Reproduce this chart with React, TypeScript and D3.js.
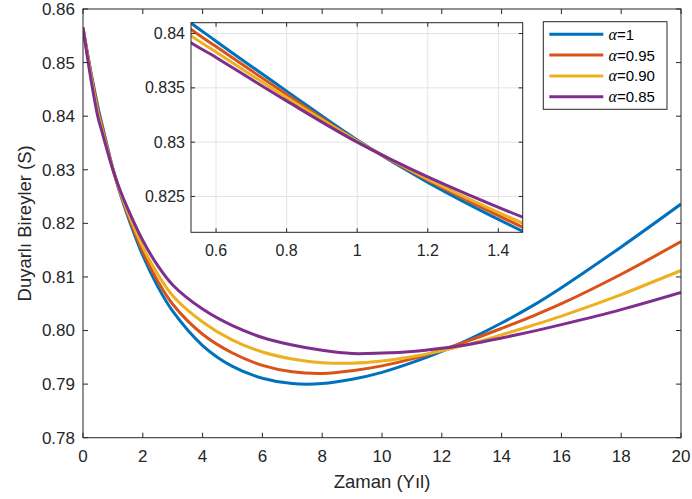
import React from "react";
import * as d3 from "d3";

const T = [0, 0.25, 0.5, 0.6, 0.8, 1, 1.2, 1.5, 2, 2.5, 3, 4, 5, 6, 7, 8, 9, 10, 11, 12, 13, 14, 15, 16, 18, 20];
const alpha1 = [0.8565, 0.8487, 0.8417, 0.8393, 0.8347, 0.8302, 0.8263, 0.8213, 0.814, 0.8082, 0.8036, 0.7972, 0.7933, 0.7911, 0.7901, 0.7901, 0.7909, 0.7922, 0.794, 0.7961, 0.7986, 0.8014, 0.8045, 0.808, 0.8156, 0.8236];
const alpha095 = [0.8565, 0.8484, 0.8411, 0.8388, 0.8344, 0.8301, 0.8265, 0.8217, 0.8147, 0.8092, 0.8049, 0.7993, 0.7958, 0.7935, 0.7923, 0.792, 0.7925, 0.7934, 0.7947, 0.7964, 0.7983, 0.8004, 0.8026, 0.805, 0.8105, 0.8166];
const alpha090 = [0.8565, 0.848, 0.8405, 0.8383, 0.8341, 0.8301, 0.8266, 0.8221, 0.8156, 0.8105, 0.8065, 0.8016, 0.7982, 0.796, 0.7947, 0.794, 0.7939, 0.7943, 0.7951, 0.7962, 0.7976, 0.7992, 0.8009, 0.8027, 0.8067, 0.8112];
const alpha085 = [0.8565, 0.8474, 0.8398, 0.8378, 0.8338, 0.83, 0.8268, 0.8227, 0.8168, 0.8121, 0.8085, 0.804, 0.8009, 0.7987, 0.7973, 0.7963, 0.7957, 0.7958, 0.7961, 0.7967, 0.7975, 0.7986, 0.7998, 0.8011, 0.8039, 0.8071];

const seriesNames = ["1", "0.95", "0.90", "0.85"];
const seriesValues = [alpha1, alpha095, alpha090, alpha085];
const colors = ["#0072BD", "#D95319", "#EDB120", "#7E2F8E"];

const xTicks = [0, 2, 4, 6, 8, 10, 12, 14, 16, 18, 20];
const yTicks = [0.78, 0.79, 0.8, 0.81, 0.82, 0.83, 0.84, 0.85, 0.86];
const insetXTicks = [0.6, 0.8, 1, 1.2, 1.4];
const insetYTicks = [0.825, 0.83, 0.835, 0.84];

const W = 692, H = 499;
const M = { left: 83, right: 681, top: 9, bottom: 437.7 };
const I = { left: 191, right: 522.7, top: 22.7, bottom: 232.3 };
const axisColor = "#262626";
const font = "'Liberation Sans', Arial, Helvetica, sans-serif";

export default function App() {
  const x = d3.scaleLinear().domain([0, 20]).range([M.left, M.right]);
  const y = d3.scaleLinear().domain([0.78, 0.86]).range([M.bottom, M.top]);
  const xi = d3.scaleLinear().domain([0.529, 1.469]).range([I.left, I.right]);
  const yi = d3.scaleLinear().domain([0.8217, 0.841]).range([I.bottom, I.top]);

  const curve = d3.curveCatmullRom.alpha(0.5);
  const mainLine = (vals: number[]) =>
    d3.line<number>().x((_, i) => x(T[i])).y((v) => y(v)).curve(curve)(vals) || "";
  const insetLine = (vals: number[]) =>
    d3.line<number>().x((_, i) => xi(T[i])).y((v) => yi(v)).curve(curve)(vals) || "";

  const tl = 5;
  const ti = 4;

  return (
    <svg width={W} height={H} style={{ position: "absolute", left: 0, top: 0, background: "#fff" }}>
      <defs>
        <clipPath id="mainclip">
          <rect x={M.left} y={M.top} width={M.right - M.left} height={M.bottom - M.top} />
        </clipPath>
        <clipPath id="insetclip">
          <rect x={I.left} y={I.top} width={I.right - I.left} height={I.bottom - I.top} />
        </clipPath>
      </defs>
      <rect x={0} y={0} width={W} height={H} fill="#fff" />

      <g clipPath="url(#mainclip)">
        {seriesValues.map((vals, k) => (
          <path key={k} d={mainLine(vals)} fill="none" stroke={colors[k]} strokeWidth={3} />
        ))}
      </g>

      <rect x={M.left} y={M.top} width={M.right - M.left} height={M.bottom - M.top} fill="none" stroke={axisColor} strokeWidth={1} />
      {xTicks.map((t) => (
        <g key={"xt" + t}>
          <line x1={x(t)} x2={x(t)} y1={M.bottom} y2={M.bottom - tl} stroke={axisColor} />
          <line x1={x(t)} x2={x(t)} y1={M.top} y2={M.top + tl} stroke={axisColor} />
          <text x={x(t)} y={461.5} textAnchor="middle" fontFamily={font} fontSize={17} fill={axisColor}>
            {t}
          </text>
        </g>
      ))}
      {yTicks.map((t) => (
        <g key={"yt" + t}>
          <line x1={M.left} x2={M.left + tl} y1={y(t)} y2={y(t)} stroke={axisColor} />
          <line x1={M.right} x2={M.right - tl} y1={y(t)} y2={y(t)} stroke={axisColor} />
          <text x={75} y={y(t)} dy="0.35em" textAnchor="end" fontFamily={font} fontSize={17} fill={axisColor}>
            {d3.format(".2f")(t)}
          </text>
        </g>
      ))}
      <text x={(M.left + M.right) / 2} y={488} textAnchor="middle" fontFamily={font} fontSize={18.5} fill={axisColor}>
        Zaman (Yıl)
      </text>
      <text
        transform={`translate(31, ${(M.top + M.bottom) / 2}) rotate(-90)`}
        textAnchor="middle"
        fontFamily={font}
        fontSize={18.5}
        fill={axisColor}
      >
        Duyarlı Bireyler (S)
      </text>

      <rect x={I.left} y={I.top} width={I.right - I.left} height={I.bottom - I.top} fill="#fff" />
      {insetXTicks.map((t) => (
        <line key={"ixg" + t} x1={xi(t)} x2={xi(t)} y1={I.top} y2={I.bottom} stroke="#e3e3e3" strokeWidth={1} />
      ))}
      {insetYTicks.map((t) => (
        <line key={"iyg" + t} x1={I.left} x2={I.right} y1={yi(t)} y2={yi(t)} stroke="#e3e3e3" strokeWidth={1} />
      ))}
      <g clipPath="url(#insetclip)">
        {seriesValues.map((vals, k) => (
          <path key={k} d={insetLine(vals)} fill="none" stroke={colors[k]} strokeWidth={3} />
        ))}
      </g>
      <rect x={I.left} y={I.top} width={I.right - I.left} height={I.bottom - I.top} fill="none" stroke={axisColor} strokeWidth={1} />
      {insetXTicks.map((t) => (
        <g key={"ixt" + t}>
          <line x1={xi(t)} x2={xi(t)} y1={I.bottom} y2={I.bottom - ti} stroke={axisColor} />
          <line x1={xi(t)} x2={xi(t)} y1={I.top} y2={I.top + ti} stroke={axisColor} />
          <text x={xi(t)} y={256} textAnchor="middle" fontFamily={font} fontSize={16} fill={axisColor}>
            {String(t)}
          </text>
        </g>
      ))}
      {insetYTicks.map((t) => (
        <g key={"iyt" + t}>
          <line x1={I.left} x2={I.left + ti} y1={yi(t)} y2={yi(t)} stroke={axisColor} />
          <line x1={I.right} x2={I.right - ti} y1={yi(t)} y2={yi(t)} stroke={axisColor} />
          <text x={185} y={yi(t)} dy="0.35em" textAnchor="end" fontFamily={font} fontSize={16} fill={axisColor}>
            {String(t)}
          </text>
        </g>
      ))}

      <rect x={543.3} y={21.7} width={123.7} height={87.6} fill="#fff" stroke={axisColor} strokeWidth={1} />
      {seriesNames.map((n, k) => {
        const ly = 34.3 + k * 20.8;
        return (
          <g key={"lg" + k}>
            <line x1={549.3} x2={603.3} y1={ly} y2={ly} stroke={colors[k]} strokeWidth={3} />
            <text x={608.5} y={ly} dy="0.36em" fontFamily={font} fontSize={15} fill="#000">
              <tspan fontFamily="'Liberation Serif', 'Times New Roman', serif" fontStyle="italic" fontSize={16}>α</tspan>
              <tspan>={n}</tspan>
            </text>
          </g>
        );
      })}
    </svg>
  );
}
